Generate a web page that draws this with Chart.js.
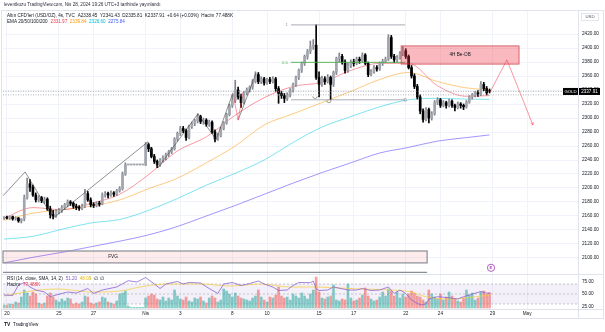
<!DOCTYPE html>
<html>
<head>
<meta charset="utf-8">
<title>Altın CFD'leri 4s</title>
<script src="https://cdn.jsdelivr.net/npm/chart.js"></script>
<style>
  html, body { margin: 0; padding: 0; background: #fff; overflow: hidden; }
  #c { display: block; }
</style>
</head>
<body>
<canvas id="c" width="605" height="332"></canvas>
<script>
// 4 saatlik mumlar: 19 Mart son mum ... 26 Nisan son mum (gunde 6 mum)
const opens = [
  2157,2158,2157,2159,2156,2157,  2153,2156,2186,2206,2201,2190,
  2183,2186,2182,2184,2170,2162,  2160,2166,2168,2172,2176,2180,
  2178,2174,2172,2171,2174,2192,  2183,2176,2175,2178,2177,2190,
  2192,2190,2193,2191,2196,2199,  2220,2233,2233,2233,2233,2233,
  2233,2233,2262,2256,2245,2238,  2233,2240,2243,2248,2252,2256,
  2270,2278,2285,2282,2272,2288,  2292,2296,2302,2295,2297,2291,
  2294,2280,2270,2275,2285,2293,  2305,2318,2325,2340,2330,2322,
  2336,2340,2344,2352,2362,2352,  2356,2350,2355,2352,2356,2342,
  2335,2332,2328,2333,2340,2348,  2358,2368,2378,2388,2395,2402,
  2404,2358,2348,2356,2352,2358,  2348,2365,2385,2388,2380,2368,
  2375,2380,2378,2384,2382,2390,  2378,2362,2366,2372,2370,2378,
  2381,2384,2415,2388,2383,2386,  2392,2396,2388,2372,2360,2345,
  2330,2310,2298,2312,2300,2306,  2322,2326,2318,2322,2318,2324,
  2318,2315,2320,2318,2316,2323,  2330,2333,2336,2334,2348,2342,
  2338.45];
const highs = [
  2159,2160,2160,2160,2159,2158,  2156,2190,2214,2212,2204,2193,
  2189,2188,2187,2186,2174,2168,  2169,2171,2175,2178,2183,2182,
  2180,2177,2175,2177,2198,2195,  2186,2179,2180,2181,2193,2195,
  2194,2196,2195,2198,2202,2223,  2236,2233,2233,2233,2233,2233,
  2233,2265,2264,2258,2248,2240,  2242,2246,2250,2254,2258,2272,
  2280,2288,2288,2284,2290,2294,  2298,2306,2304,2300,2299,2297,
  2296,2283,2278,2287,2295,2307,  2320,2333,2354,2344,2334,2338,
  2343,2346,2355,2366,2365,2359,  2358,2357,2358,2359,2358,2345,
  2338,2335,2336,2342,2350,2360,  2370,2380,2390,2398,2410,2412,
  2433,2366,2360,2359,2362,2360,  2367,2387,2393,2391,2383,2378,
  2383,2384,2387,2387,2393,2392,  2380,2369,2375,2375,2380,2384,
  2387,2419,2418,2391,2389,2395,  2402,2399,2390,2375,2363,2348,
  2333,2313,2315,2314,2309,2325,  2329,2328,2325,2324,2327,2326,
  2320,2323,2322,2320,2325,2332,  2335,2338,2339,2352,2351,2345,
  2341.43];
const lows = [
  2155,2156,2155,2154,2154,2151,  2150,2153,2184,2195,2188,2180,
  2180,2179,2178,2168,2157,2156,  2158,2163,2165,2169,2173,2175,
  2171,2169,2168,2169,2172,2181,  2173,2172,2173,2174,2176,2187,
  2186,2188,2188,2189,2194,2197,  2218,2233,2233,2233,2233,2233,
  2233,2232,2252,2243,2235,2229,  2231,2237,2240,2245,2249,2254,
  2267,2275,2279,2268,2270,2285,  2289,2293,2292,2291,2288,2288,
  2278,2266,2268,2273,2283,2291,  2303,2315,2322,2327,2315,2320,
  2333,2337,2341,2350,2349,2349,  2347,2348,2349,2350,2338,2321,
  2328,2322,2325,2330,2337,2345,  2355,2365,2375,2384,2392,2398,
  2355,2330,2345,2348,2350,2326,  2345,2362,2380,2377,2364,2365,
  2372,2374,2376,2378,2380,2376,  2359,2360,2364,2367,2368,2375,
  2379,2382,2385,2379,2380,2384,  2389,2385,2370,2357,2342,2327,
  2306,2294,2296,2293,2297,2304,  2319,2315,2316,2314,2316,2315,
  2310,2313,2314,2312,2314,2321,  2327,2330,2331,2332,2339,2333,
  2335.81];
const closes = [
  2158,2157,2159,2156,2157,2153,  2156,2186,2206,2201,2190,2183,
  2186,2182,2184,2170,2162,2160,  2166,2168,2172,2176,2180,2178,
  2174,2172,2171,2174,2192,2183,  2176,2175,2178,2177,2190,2192,
  2190,2193,2191,2196,2199,2220,  2233,2233,2233,2233,2233,2233,
  2233,2262,2256,2245,2238,2233,  2240,2243,2248,2252,2256,2270,
  2278,2285,2282,2272,2288,2292,  2296,2302,2295,2297,2291,2294,
  2280,2270,2275,2285,2293,2305,  2318,2325,2340,2330,2322,2336,
  2340,2344,2352,2362,2352,2356,  2350,2355,2352,2356,2342,2335,
  2332,2328,2333,2340,2348,2358,  2368,2378,2388,2395,2402,2404,
  2358,2348,2356,2352,2358,2348,  2365,2385,2388,2380,2368,2375,
  2380,2378,2384,2382,2390,2378,  2362,2366,2372,2370,2378,2381,
  2384,2415,2388,2383,2386,2392,  2396,2388,2372,2360,2345,2330,
  2310,2298,2312,2300,2306,2322,  2326,2318,2322,2318,2324,2318,
  2315,2320,2318,2316,2323,2330,  2333,2336,2334,2348,2342,2336,
  2337.91];
// hacim (K)
const volumes = [
  15,15,20,18,30,25,  55,90,75,60,80,70,
  25,20,25,60,75,55,  40,30,45,35,50,45,
  20,25,20,30,60,55,  25,20,25,30,55,50,
  30,25,20,35,70,75,  85,10,3,3,3,3,
  3,50,60,70,65,45,   40,55,35,50,40,90,
  60,45,40,55,35,30,  50,45,55,35,25,50,
  60,50,30,40,95,85,  70,55,75,60,50,45,
  40,35,50,60,90,55,  40,30,55,50,65,105,
  60,50,55,40,70,60,  50,75,60,45,70,90,
  155,80,50,45,55,60, 115,40,35,45,40,120,
  50,35,40,50,65,100, 60,45,35,40,55,80,
  60,95,85,60,80,50,  70,55,70,85,75,60,
  55,40,30,90,70,55,  45,70,40,55,80,60,
  45,35,30,50,90,65,  75,40,50,80,85,70,
  77.488];

// EMA 20/50/100/200, okunan noktalar (mum sirasi)
const emaIdx = [0,10,20,30,40,50,60,70,80,90,100,110,120,130,140,150,160,168];
const ema20  = [2157,2172,2169,2178,2191,2219,2253,2273,2304,2329,2345,2351,2368,2378,2378,2346,2331,2331.97];
const ema50  = [2154,2164,2169,2174,2183,2199,2214,2236,2260,2290,2306,2322,2338,2355,2365,2352,2343,2339.84];
const ema100 = [2127,2131,2141,2150,2155,2168,2185,2204,2221,2240,2265,2287,2302,2316,2326,2328,2327,2326.60];
const ema200 = [2093,2101,2108,2116,2124,2133,2145,2160,2175,2191,2207,2222,2236,2250,2258,2267,2272,2275.84];

// RSI (14) ve SMA (14)
const rsiIdx = [0,3,5,7,9,11,14,16,18,22,25,29,31,34,39,43,46,49,52,54,56,60,62,64,68,71,74,76,79,82,85,88,90,93,95,98,
                100,102,106,107,108,109,112,114,119,122,124,127,130,133,135,137,139,141,144,146,147,150,153,157,159,161,165,167,168];
const rsiVal = [48,47,68,72.6,64,58,54,44.6,48,54,52,61,51,58,64,76.6,74,83,70,61,70,75,70,73,72,61,51,70,73,67,71,76,70,64,57,58,
                67,73,72.6,76,61,57,58,64,58,58,61,57,58,64,51,58,51,38,28,30,40,44.6,43,40,44.6,48,55,52,51.2];
const smaIdx = [0,12,19,30,40,49,57,68,78,89,99,106,113,123,134,140,147,154,161,168];
const smaVal = [46,58,60,54,56,66,70,70,66,70,64,64,63,60,58,55,43,40,43,48.09];
const rsiBand = [70, 30];
const rsiLevels = [70, 50, 30];
const rsiTicks = [75, 50, 25];

// eksen etiketleri
const dayTicks = [1, 19, 31, 49, 61, 79, 91, 109, 121, 139, 151, 169, 181];
const dayLabels = ['20', '25', '27', 'Nis', '3', '8', '10', '15', '17', '22', '24', '29', 'May'];
const priceTicks = [2100,2120,2140,2160,2180,2200,2220,2240,2260,2280,2300,2320,2340,2360,2380,2400,2420];

// cizimler (mum sirasi, fiyat)
const zigGray = [[-0.3,2189],[7.3,2223],[17,2157],[49.8,2266],[53.3,2229],[67.1,2306],[73.4,2269],[79.2,2336]];
const zigGray2 = [[81,2297],[87.2,2364]];
const zigRed = [[79.2,2336],[81,2297],[82.7,2337]];
const fibFrom = 99.3, fibTo = 138.8;
const fibLevels = [[1, 2433], [0.5, 2379.5], [0, 2326]];
const obBox = [137.4, 178.2, 2377, 2403];
const projection = [[168.2,2337],[174,2383],[183,2290]];
const fvgBox = [-0.35, 146.4, 2093, 2110];
const lowerBoxTop = 2079.5;
const hooks = [[107.6, 2331], [112.4, 2325]];
const eventMark = [168.5, 2086];
const priceLines = [2337.91, 2333];
const lastPrice = 2337.91;

const candleIdx = closes.map((c, i) => i);
const isUp = i => closes[i] >= opens[i];

const fontFam = "'Liberation Sans', Arial, sans-serif";
const ink = '#131722';
const gridColor = '#f0f3fa';

function txt(ctx, s, x, y, color, size, align, weight) {
  ctx.font = (weight || 'normal') + ' ' + size + 'px ' + fontFam;
  ctx.fillStyle = color;
  ctx.textAlign = align || 'left';
  ctx.textBaseline = 'middle';
  ctx.fillText(s, x, y);
  return x + ctx.measureText(s).width;
}

function flow(ctx, parts, x, y, size) {
  parts.forEach(p => { x = txt(ctx, p[0], x, y, p[1], size) + (p[2] === undefined ? 2.6 : p[2]); });
}

const overlay = {
  id: 'overlay',
  beforeDatasetsDraw(chart) {
    const { ctx, chartArea: a, scales: s } = chart;
    const R = v => s.yR.getPixelForValue(v);
    ctx.save();
    ctx.fillStyle = 'rgba(126,87,194,0.09)';
    ctx.fillRect(a.left, R(rsiBand[0]), a.right - a.left, R(rsiBand[1]) - R(rsiBand[0]));
    ctx.strokeStyle = '#a3a6af';
    ctx.lineWidth = 0.6;
    ctx.setLineDash([2, 2]);
    rsiLevels.forEach(l => {
      ctx.beginPath(); ctx.moveTo(a.left, R(l)); ctx.lineTo(a.right, R(l)); ctx.stroke();
    });
    ctx.restore();
  },
  afterDatasetsDraw(chart) {
    const { ctx, chartArea: a, scales: s } = chart;
    const X = v => s.x.getPixelForValue(v);
    const P = v => s.y.getPixelForValue(v);
    const poly = (pts, color, w) => {
      ctx.strokeStyle = color; ctx.lineWidth = w;
      ctx.beginPath();
      pts.forEach((p, k) => k ? ctx.lineTo(X(p[0]), P(p[1])) : ctx.moveTo(X(p[0]), P(p[1])));
      ctx.stroke();
    };
    ctx.save();

    // fiyat cizgileri (noktali)
    ctx.setLineDash([1, 1.5]);
    ctx.strokeStyle = '#9598a1'; ctx.lineWidth = 0.7;
    priceLines.forEach(p => {
      ctx.beginPath(); ctx.moveTo(a.left, P(p)); ctx.lineTo(a.right, P(p)); ctx.stroke();
    });
    ctx.setLineDash([]);

    // zigzag
    poly(zigGray, 'rgba(60,60,60,0.8)', 0.7);
    poly(zigGray2, 'rgba(60,60,60,0.8)', 0.7);
    poly(zigRed, 'rgba(242,54,69,0.7)', 0.7);

    // fib
    fibLevels.forEach(f => {
      const col = f[0] === 0.5 ? '#4caf50' : '#9598a1';
      poly([[fibFrom, f[1]], [fibTo, f[1]]], col, f[0] === 0.5 ? 0.9 : 0.8);
      txt(ctx, String(f[0]), X(fibFrom) - 3, P(f[1]), col, 4.3, 'right');
    });
    ctx.strokeStyle = '#9598a1'; ctx.lineWidth = 0.6;
    ctx.beginPath(); ctx.arc(X(fibTo), P(fibLevels[2][1]), 1.5, 0, Math.PI * 2); ctx.stroke();

    // donus kancalari
    ctx.strokeStyle = 'rgba(60,60,60,0.8)'; ctx.lineWidth = 0.6;
    hooks.forEach(h => {
      ctx.beginPath(); ctx.arc(X(h[0]), P(h[1]), 2.2, 0, Math.PI); ctx.stroke();
    });

    // 4H Be-OB
    const ox1 = X(obBox[0]), ox2 = X(obBox[1]), oy1 = P(obBox[3]), oy2 = P(obBox[2]);
    ctx.fillStyle = 'rgba(242,54,69,0.35)';
    ctx.fillRect(ox1, oy1, ox2 - ox1, oy2 - oy1);
    ctx.strokeStyle = 'rgba(200,60,70,0.9)'; ctx.lineWidth = 0.8;
    ctx.strokeRect(ox1, oy1, ox2 - ox1, oy2 - oy1);
    txt(ctx, '4H Be-OB', (ox1 + ox2) / 2, (oy1 + oy2) / 2, ink, 4.7, 'center');

    // projeksiyon
    poly(projection, 'rgba(242,54,69,0.65)', 0.8);
    const e = projection[projection.length - 1], b = projection[projection.length - 2];
    const ang = Math.atan2(P(e[1]) - P(b[1]), X(e[0]) - X(b[0]));
    ctx.beginPath();
    ctx.moveTo(X(e[0]) - 3 * Math.cos(ang - 0.5), P(e[1]) - 3 * Math.sin(ang - 0.5));
    ctx.lineTo(X(e[0]), P(e[1]));
    ctx.lineTo(X(e[0]) - 3 * Math.cos(ang + 0.5), P(e[1]) - 3 * Math.sin(ang + 0.5));
    ctx.stroke();

    // FVG
    const fx1 = X(fvgBox[0]), fx2 = X(fvgBox[1]), fy1 = P(fvgBox[3]), fy2 = P(fvgBox[2]);
    ctx.fillStyle = 'rgba(242,54,69,0.1)';
    ctx.fillRect(fx1, fy1, fx2 - fx1, fy2 - fy1);
    ctx.strokeStyle = '#8a8d96'; ctx.lineWidth = 1.2;
    ctx.strokeRect(fx1, fy1, fx2 - fx1, fy2 - fy1);
    txt(ctx, 'FVG', X(37.7), (fy1 + fy2) / 2, ink, 4.7, 'center');
    ctx.beginPath(); ctx.moveTo(fx1, P(lowerBoxTop)); ctx.lineTo(fx2, P(lowerBoxTop)); ctx.stroke();

    // olay isareti
    const ex = X(eventMark[0]), ey = P(eventMark[1]);
    ctx.fillStyle = '#fff'; ctx.strokeStyle = '#ab47bc'; ctx.lineWidth = 0.9;
    ctx.beginPath(); ctx.arc(ex, ey, 3.6, 0, Math.PI * 2); ctx.fill(); ctx.stroke();
    txt(ctx, 'E', ex, ey + 0.2, '#ab47bc', 4.2, 'center', 'bold');

    ctx.restore();
  },
  afterDraw(chart) {
    const { ctx, chartArea: a, scales: s } = chart;
    const P = v => s.y.getPixelForValue(v);
    const R = v => s.yR.getPixelForValue(v);
    ctx.save();

    // panel ayiricilar ve cerceve
    ctx.strokeStyle = '#e0e3eb'; ctx.lineWidth = 1;
    ctx.beginPath();
    ctx.moveTo(1, 274.5); ctx.lineTo(604, 274.5);
    ctx.moveTo(1, a.bottom + 0.5); ctx.lineTo(604, a.bottom + 0.5);
    ctx.moveTo(a.right + 0.5, a.top); ctx.lineTo(a.right + 0.5, 318);
    ctx.stroke();
    ctx.strokeRect(1.5, 10.5, 602, 308);

    // RSI eksen etiketleri
    rsiTicks.forEach(t => txt(ctx, t.toFixed(2), a.right + 4, R(t), ink, 4.7));

    // son fiyat etiketi
    const yp = P(lastPrice);
    ctx.fillStyle = '#000';
    ctx.fillRect(a.right - 15, yp - 3.5, 15, 7);
    ctx.fillRect(a.right + 1, yp - 3.5, 21, 7);
    txt(ctx, 'GOLD', a.right - 7.5, yp, '#fff', 4.3, 'center');
    txt(ctx, lastPrice.toFixed(2), a.right + 11.5, yp, '#fff', 4.5, 'center');

    // USD
    ctx.strokeStyle = '#d1d4dc'; ctx.lineWidth = 0.6;
    ctx.strokeRect(581.5, 13.5, 17, 7);
    txt(ctx, 'USD', 590, 17, '#50535e', 4.3, 'center');

    // baslik
    txt(ctx, 'leventkuzu TradingView.com, Nis 28, 2024 19:26 UTC+3 tarihinde yayınlandı', 4, 5, '#2a2e39', 4.6);
    flow(ctx, [
      ["Altın CFD'leri (USD/OZ), 4s, TVC", ink, 3],
      ['A2338.45', ink], ['Y2341.43', ink], ['D2335.81', ink], ['K2337.91', ink],
      ['+0.64 (+0.03%)', ink], ['Hacim', ink, 1.5], ['77.488K', ink]
    ], 7, 15.5, 4.6);
    flow(ctx, [
      ['EMA 20/50/100/200', ink, 3],
      ['2331.97', '#f23645'], ['2339.84', '#ff9800'], ['2326.60', '#00bcd4'], ['2275.84', '#3d5afe']
    ], 7, 21.5, 4.6);

    // RSI baslik
    flow(ctx, [
      ['RSI (14, close, SMA, 14, 2)', ink, 3],
      ['51.20', '#7e57c2'], ['48.09', '#e0b400'], ['∅', ink, 2], ['∅', ink]
    ], 7, 279, 4.6);
    flow(ctx, [['Hacim', ink, 3], ['77.488K', '#f23645']], 7, 285, 4.6);

    // logo
    txt(ctx, 'TV', 4, 325, '#131722', 5, 'left', 'bold');
    txt(ctx, 'TradingView', 13, 325, '#131722', 4.6);

    ctx.restore();
  }
};

new Chart(document.getElementById('c'), {
  type: 'bar',
  data: {
    datasets: [
      { label: 'Govde', order: 0, grouped: false, barThickness: 2, minBarLength: 1, yAxisID: 'y',
        data: candleIdx.map(i => ({ x: i, y: [opens[i], closes[i]] })),
        backgroundColor: c => isUp(c.dataIndex) ? '#a3a6ae' : '#000000' },
      { label: 'Fitil', order: 1, grouped: false, barThickness: 1, yAxisID: 'y',
        data: candleIdx.map(i => ({ x: i, y: [lows[i], highs[i]] })),
        backgroundColor: c => isUp(c.dataIndex) ? '#80838c' : '#000000' },
      { type: 'line', label: 'EMA 20', order: 2, yAxisID: 'y', data: emaIdx.map((x, k) => ({ x, y: ema20[k] })),
        borderColor: 'rgba(242,54,69,0.5)', borderWidth: 1, pointRadius: 0, cubicInterpolationMode: 'monotone' },
      { type: 'line', label: 'EMA 50', order: 2, yAxisID: 'y', data: emaIdx.map((x, k) => ({ x, y: ema50[k] })),
        borderColor: 'rgba(255,152,0,0.5)', borderWidth: 1, pointRadius: 0, cubicInterpolationMode: 'monotone' },
      { type: 'line', label: 'EMA 100', order: 2, yAxisID: 'y', data: emaIdx.map((x, k) => ({ x, y: ema100[k] })),
        borderColor: 'rgba(0,200,230,0.5)', borderWidth: 1, pointRadius: 0, cubicInterpolationMode: 'monotone' },
      { type: 'line', label: 'EMA 200', order: 2, yAxisID: 'y', data: emaIdx.map((x, k) => ({ x, y: ema200[k] })),
        borderColor: 'rgba(100,80,255,0.6)', borderWidth: 1, pointRadius: 0, cubicInterpolationMode: 'monotone' },
      { type: 'line', label: 'RSI', order: 3, yAxisID: 'yR', data: rsiIdx.map((x, k) => ({ x, y: rsiVal[k] })),
        borderColor: '#8a63d2', borderWidth: 0.8, pointRadius: 0, tension: 0 },
      { type: 'line', label: 'RSI SMA', order: 3, yAxisID: 'yR', data: smaIdx.map((x, k) => ({ x, y: smaVal[k] })),
        borderColor: 'rgba(245,205,60,0.9)', borderWidth: 0.8, pointRadius: 0, cubicInterpolationMode: 'monotone' },
      { label: 'Hacim', order: 5, grouped: false, barThickness: 2, yAxisID: 'yV',
        data: candleIdx.map(i => ({ x: i, y: volumes[i] })),
        backgroundColor: c => isUp(c.dataIndex) ? 'rgba(38,166,154,0.55)' : 'rgba(239,83,80,0.55)' }
    ]
  },
  options: {
    responsive: false,
    animation: false,
    devicePixelRatio: 1,
    events: [],
    layout: { padding: { left: 3, top: 11, right: 0, bottom: 13 } },
    plugins: { legend: { display: false }, tooltip: { enabled: false }, title: { display: false } },
    scales: {
      x: {
        type: 'linear', min: -0.35, max: 198.6, offset: false,
        grid: { color: gridColor, drawTicks: false, offset: false },
        border: { display: false },
        afterBuildTicks: sc => { sc.ticks = dayTicks.map(v => ({ value: v })); },
        afterFit: sc => { sc.height = 10; },
        ticks: {
          autoSkip: false, maxRotation: 0, minRotation: 0, padding: 2, color: ink,
          font: { size: 4.7, family: fontFam },
          callback: v => { const k = dayTicks.indexOf(v); return k >= 0 ? dayLabels[k] : ''; }
        }
      },
      y: {
        type: 'linear', position: 'right', min: 2027.14, max: 2452.86,
        grid: { color: gridColor, drawTicks: false },
        border: { display: false },
        afterBuildTicks: sc => { sc.ticks = priceTicks.map(v => ({ value: v })); },
        afterFit: sc => { sc.width = 27; },
        ticks: { padding: 4, color: ink, font: { size: 4.7, family: fontFam }, callback: v => v.toFixed(2) }
      },
      yR: { type: 'linear', display: false, min: 20, max: 616 },
      yV: { type: 'linear', display: false, min: -5, max: 1485 }
    }
  },
  plugins: [overlay]
});
</script>
</body>
</html>
